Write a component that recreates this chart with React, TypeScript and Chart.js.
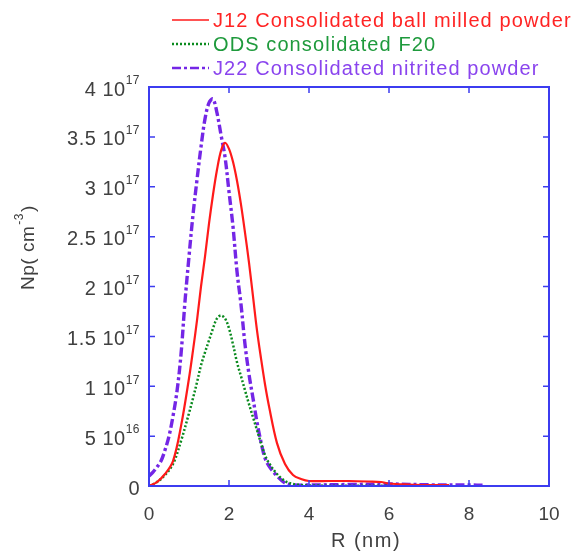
import React, { useEffect, useRef } from 'react';
import { Chart, registerables } from 'chart.js';

Chart.register(...registerables);

// R (nm)
const R_J12 = [0, 0.2, 0.4, 0.6, 0.8, 1.0, 1.1, 1.2, 1.3, 1.4, 1.5, 1.6, 1.7, 1.8, 1.9, 2.0, 2.1, 2.2, 2.3, 2.4, 2.5, 2.6, 2.7, 2.8, 2.9, 3.0, 3.2, 3.4, 3.6, 3.8, 4.0, 4.5, 5.0, 5.5, 5.8, 6.0, 6.5, 7.0, 7.5];
// Np in units of 10^17 cm^-3
const NP_J12 = [0, 0.04, 0.12, 0.25, 0.6, 1.08, 1.36, 1.66, 2.0, 2.3, 2.63, 2.92, 3.17, 3.36, 3.44, 3.38, 3.25, 3.06, 2.82, 2.54, 2.24, 1.9, 1.56, 1.28, 1.02, 0.8, 0.43, 0.22, 0.11, 0.07, 0.05, 0.05, 0.05, 0.045, 0.04, 0.025, 0.015, 0.01, 0.008];

const R_ODS = [0, 0.2, 0.4, 0.6, 0.8, 1.0, 1.1, 1.2, 1.3, 1.4, 1.5, 1.6, 1.7, 1.8, 1.9, 2.0, 2.1, 2.2, 2.3, 2.4, 2.5, 2.6, 2.7, 2.8, 2.9, 3.0, 3.2, 3.4, 3.6, 3.8, 4.0, 5.0, 6.0];
const NP_ODS = [0, 0.04, 0.11, 0.22, 0.45, 0.73, 0.88, 1.04, 1.21, 1.34, 1.46, 1.58, 1.68, 1.71, 1.68, 1.58, 1.42, 1.24, 1.1, 0.96, 0.82, 0.69, 0.56, 0.43, 0.31, 0.23, 0.12, 0.05, 0.02, 0.01, 0.005, 0.003, 0.002];

const R_J22 = [0, 0.1, 0.2, 0.3, 0.4, 0.5, 0.6, 0.7, 0.8, 0.9, 1.0, 1.1, 1.2, 1.3, 1.4, 1.5, 1.6, 1.7, 1.8, 1.9, 2.0, 2.1, 2.2, 2.3, 2.4, 2.5, 2.6, 2.7, 2.8, 2.9, 3.0, 3.2, 3.4, 3.6, 4.0, 5.0, 6.0, 7.0, 8.0, 8.4];
const NP_J22 = [0.1, 0.14, 0.19, 0.25, 0.36, 0.5, 0.7, 0.95, 1.32, 1.85, 2.3, 2.72, 3.07, 3.4, 3.68, 3.84, 3.88, 3.74, 3.52, 3.3, 2.95, 2.6, 2.15, 1.82, 1.42, 1.12, 0.88, 0.64, 0.44, 0.28, 0.2, 0.1, 0.03, 0.01, 0.01, 0.015, 0.02, 0.012, 0.01, 0.008];

const SERIES_NAMES = ['J12 Consolidated ball milled powder', 'ODS consolidated F20', 'J22 Consolidated nitrited powder'];
const LINE_COLORS = ['#ff1a1a', '#0a8a1e', '#7426e6'];
const TEXT_COLORS = ['#ff2424', '#1e9a3c', '#8a44ee'];

const X_TICKS = [0, 2, 4, 6, 8, 10];
const Y_TICK_VALUES = [0, 0.5, 1, 1.5, 2, 2.5, 3, 3.5, 4];
const Y_TICK_MANTISSA = ['0', '5 10', '1 10', '1.5 10', '2 10', '2.5 10', '3 10', '3.5 10', '4 10'];
const Y_TICK_EXPONENT = ['', '16', '17', '17', '17', '17', '17', '17', '17'];

const X_TITLE = 'R (nm)';
const Y_TITLE_MAIN = 'Np( cm';
const Y_TITLE_SUP = '-3';
const Y_TITLE_END = ')';

const FRAME = '#3c3cf0';
const TEXT = '#404040';
const FONT = 'Arial, "Liberation Sans", sans-serif';

const toPoints = (xs: number[], ys: number[]) => xs.map((x, i) => ({ x, y: ys[i] }));

const DASHES: number[][] = [[], [2, 2], [9, 3, 3, 3]];
const WIDTHS = [2.2, 2.5, 3.4];

const decorPlugin = {
  id: 'decor',
  afterDraw(chart: any) {
    const { ctx, chartArea } = chart;
    const xs = chart.scales.x;
    const ys = chart.scales.y;
    const { left, right, top, bottom } = chartArea;
    ctx.save();
    // frame
    ctx.strokeStyle = FRAME;
    ctx.lineWidth = 2;
    ctx.setLineDash([]);
    ctx.strokeRect(left, top, right - left, bottom - top);
    // inward ticks
    ctx.lineWidth = 1.5;
    ctx.beginPath();
    X_TICKS.forEach((v) => {
      if (v <= xs.min || v >= xs.max) return;
      const px = xs.getPixelForValue(v);
      ctx.moveTo(px, bottom);
      ctx.lineTo(px, bottom - 6);
      ctx.moveTo(px, top);
      ctx.lineTo(px, top + 6);
    });
    Y_TICK_VALUES.forEach((v) => {
      if (v <= ys.min || v >= ys.max) return;
      const py = ys.getPixelForValue(v);
      ctx.moveTo(left, py);
      ctx.lineTo(left + 6, py);
      ctx.moveTo(right, py);
      ctx.lineTo(right - 6, py);
    });
    ctx.stroke();

    // y tick labels with superscript
    ctx.fillStyle = TEXT;
    ctx.textBaseline = 'middle';
    Y_TICK_VALUES.forEach((v, i) => {
      const py = ys.getPixelForValue(v);
      const exp = Y_TICK_EXPONENT[i];
      const mant = Y_TICK_MANTISSA[i];
      ctx.letterSpacing = '0.5px';
      ctx.font = `12px ${FONT}`;
      const ew = exp ? ctx.measureText(exp).width : 0;
      const endX = left - 9;
      ctx.textAlign = 'right';
      if (exp) ctx.fillText(exp, endX, py - 6);
      ctx.letterSpacing = '0.5px';
      ctx.font = `20px ${FONT}`;
      ctx.fillText(mant, endX - ew, py + 3);
    });
    ctx.letterSpacing = '0px';

    // x title
    ctx.textAlign = 'center';
    ctx.letterSpacing = '1.5px';
    ctx.font = `20px ${FONT}`;
    ctx.fillText(X_TITLE, (left + right) / 2 + 17, 541);

    // y title rotated
    ctx.save();
    ctx.translate(29, 290);
    ctx.rotate(-Math.PI / 2);
    ctx.textAlign = 'left';
    ctx.letterSpacing = '0.5px';
    ctx.font = `19px ${FONT}`;
    const w1 = ctx.measureText(Y_TITLE_MAIN).width;
    ctx.fillText(Y_TITLE_MAIN, 0, 0);
    ctx.font = `12px ${FONT}`;
    const w2 = ctx.measureText(Y_TITLE_SUP).width;
    ctx.fillText(Y_TITLE_SUP, w1 + 1, -9);
    ctx.font = `19px ${FONT}`;
    ctx.fillText(Y_TITLE_END, w1 + w2 + 2, 0);
    ctx.restore();

    // legend
    const rowY = [20, 44, 68];
    SERIES_NAMES.forEach((name, i) => {
      const y = rowY[i];
      ctx.strokeStyle = LINE_COLORS[i];
      ctx.lineWidth = i === 0 ? 1.5 : 2.5;
      ctx.setLineDash(DASHES[i]);
      ctx.beginPath();
      ctx.moveTo(172, y);
      ctx.lineTo(209, y);
      ctx.stroke();
      ctx.setLineDash([]);
      ctx.fillStyle = TEXT_COLORS[i];
      ctx.letterSpacing = '1.1px';
      ctx.font = `20px ${FONT}`;
      ctx.textAlign = 'left';
      ctx.textBaseline = 'middle';
      ctx.fillText(name, 213, y + 1);
    });
    ctx.letterSpacing = '0px';
    ctx.restore();
  },
};

export default function App() {
  const ref = useRef<HTMLCanvasElement | null>(null);
  useEffect(() => {
    if (!ref.current) return;
    const data = [toPoints(R_J12, NP_J12), toPoints(R_ODS, NP_ODS), toPoints(R_J22, NP_J22)];
    const chart = new Chart(ref.current, {
      type: 'line',
      data: {
        datasets: SERIES_NAMES.map((name, i) => ({
          label: name,
          data: data[i],
          borderColor: LINE_COLORS[i],
          borderWidth: WIDTHS[i],
          borderDash: DASHES[i],
          pointRadius: 0,
          fill: false,
          tension: 0.35,
        })),
      },
      options: {
        responsive: false,
        animation: false,
        layout: { padding: { left: 149, top: 87, right: 25, bottom: 0 } },
        plugins: { legend: { display: false }, tooltip: { enabled: false } },
        scales: {
          x: {
            type: 'linear',
            min: 0,
            max: 10,
            grid: { display: false },
            border: { display: false },
            ticks: {
              stepSize: 2,
              color: TEXT,
              font: { size: 19, family: FONT },
              padding: 9,
              maxRotation: 0,
            },
            afterFit: (scale: any) => {
              scale.height = 68;
            },
          },
          y: {
            display: false,
            min: 0,
            max: 4,
          },
        },
      },
      plugins: [decorPlugin],
    } as any);
    return () => chart.destroy();
  }, []);
  return (
    <div style={{ position: 'fixed', left: 0, top: 0, width: 574, height: 554, background: '#fff' }}>
      <canvas ref={ref} width={574} height={554} style={{ display: 'block' }} />
    </div>
  );
}
